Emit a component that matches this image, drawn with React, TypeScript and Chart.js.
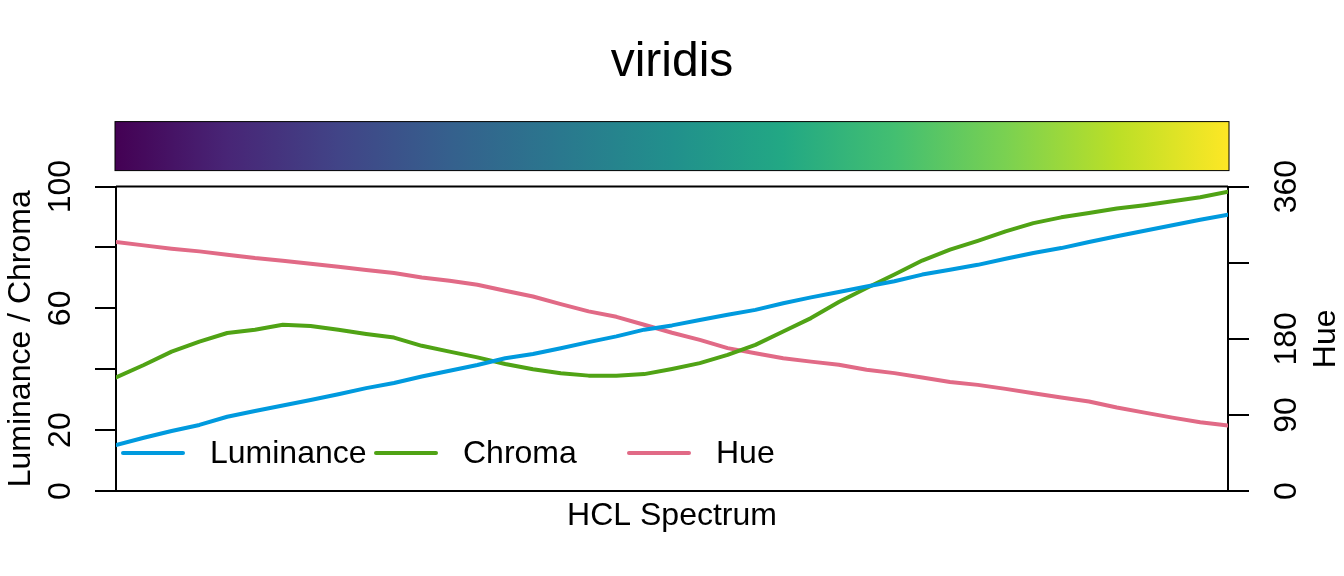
import { useEffect, useRef } from "react";
import { Chart, registerables } from "chart.js";

Chart.register(...registerables);

// HCL coordinates of the viridis palette (41 samples)
const luminance = [
  15.1, 17.5, 19.7, 21.7, 24.4, 26.3, 28.1, 29.9, 31.8, 33.8, 35.5, 37.6, 39.5, 41.4, 43.6, 45.0, 46.9, 48.9, 50.8, 53.0,
  54.4, 56.2, 57.9, 59.5, 61.7, 63.6, 65.4, 67.2, 68.9, 71.1, 72.7, 74.3, 76.3, 78.2, 79.8, 81.8, 83.7, 85.5, 87.3, 89.1,
  90.8,
];
const chroma = [
  37.3, 41.4, 45.8, 49.1, 51.9, 53.0, 54.6, 54.2, 53.0, 51.6, 50.4, 47.7, 45.8, 43.9, 41.7, 40.0, 38.7, 37.9, 37.9, 38.4,
  40.1, 42.0, 44.7, 48.0, 52.4, 56.8, 62.1, 66.7, 71.1, 75.7, 79.3, 82.2, 85.3, 88.0, 89.9, 91.3, 92.8, 93.9, 95.2, 96.5,
  98.3,
];
const hue = [
  294.5, 290.5, 286.6, 283.4, 279.5, 275.5, 272.4, 268.8, 265.3, 261.3, 257.7, 252.6, 248.7, 244.0, 236.8, 230.0, 221.0,
  212.4, 206.0, 196.6, 187.2, 178.8, 169.0, 163.0, 157.0, 153.0, 149.2, 143.3, 139.4, 134.2, 129.0, 125.5, 120.8, 115.7,
  110.5, 105.8, 98.7, 92.7, 86.8, 81.3, 77.3,
];

const seriesLabels = ["Luminance", "Chroma", "Hue"];
const seriesColors = ["#009ADE", "#50A315", "#E16A86"];
const leftTickLabels = [0, 20, 60, 100];
const rightTickLabels = [0, 90, 180, 360];
const viridisStops = [
  "#440154", "#482576", "#414487", "#35608D", "#2A788E", "#21908C", "#22A884", "#43BF71", "#7AD151", "#BBDF27", "#FDE725",
];

const FONT = "'Liberation Sans', Arial, Helvetica, sans-serif";

const decorPlugin = {
  id: "specDecor",
  afterDraw(chart: any) {
    const { ctx, chartArea } = chart;
    const xs = chart.scales.x;
    const left = xs.getPixelForValue(xs.min);
    const right = xs.getPixelForValue(xs.max);
    ctx.save();

    // colour bar above the panel
    const barTop = chartArea.top - 65;
    const grad = ctx.createLinearGradient(left, 0, right, 0);
    viridisStops.forEach((c, i) => grad.addColorStop(i / (viridisStops.length - 1), c));
    ctx.fillStyle = grad;
    ctx.fillRect(left - 1, barTop, right - left + 2, 49);
    ctx.strokeStyle = "#000";
    ctx.lineWidth = 1;
    ctx.strokeRect(left - 1, barTop, right - left + 2, 49);

    // top edge of the box
    ctx.lineWidth = 2;
    ctx.beginPath();
    ctx.moveTo(chartArea.left, chartArea.top);
    ctx.lineTo(chartArea.right, chartArea.top);
    ctx.stroke();

    // right axis title, reading bottom to top
    ctx.fillStyle = "#000";
    ctx.font = `32px ${FONT}`;
    ctx.textAlign = "center";
    ctx.textBaseline = "middle";
    ctx.translate(1326, (chartArea.top + chartArea.bottom) / 2);
    ctx.rotate(-Math.PI / 2);
    ctx.fillText("Hue", 0, 0);
    ctx.setTransform(1, 0, 0, 1, 0, 0);
    ctx.restore();

    // legend inside the panel
    ctx.save();
    const ly = chartArea.bottom - 38;
    chart.data.datasets.forEach((ds: any, i: number) => {
      const x0 = chartArea.left + 7 + i * 253;
      ctx.strokeStyle = ds.borderColor;
      ctx.lineWidth = 4;
      ctx.lineCap = "round";
      ctx.beginPath();
      ctx.moveTo(x0, ly);
      ctx.lineTo(x0 + 60, ly);
      ctx.stroke();
      ctx.fillStyle = "#000";
      ctx.font = `32px ${FONT}`;
      ctx.textAlign = "left";
      ctx.textBaseline = "middle";
      ctx.fillText(ds.label, x0 + 87, ly + 1);
    });
    ctx.restore();
  },
};

export default function App() {
  const canvasRef = useRef<HTMLCanvasElement>(null);
  const chartRef = useRef<Chart | null>(null);

  useEffect(() => {
    if (!canvasRef.current) return;
    chartRef.current?.destroy();
    Chart.defaults.font.family = FONT;
    Chart.defaults.color = "#000";

    const series = [luminance, chroma, hue];
    chartRef.current = new Chart(canvasRef.current, {
      type: "line",
      data: {
        datasets: series.map((vals, k) => ({
          label: seriesLabels[k],
          data: vals.map((v, i) => ({ x: i, y: v })),
          borderColor: seriesColors[k],
          borderWidth: 4,
          borderCapStyle: "round",
          borderJoinStyle: "round",
          pointRadius: 0,
          tension: 0,
          yAxisID: k === 2 ? "y2" : "y",
        })),
      },
      options: {
        animation: false,
        responsive: true,
        maintainAspectRatio: false,
        layout: { padding: 0 },
        plugins: {
          legend: { display: false },
          tooltip: { enabled: false },
          title: {
            display: true,
            text: "viridis",
            color: "#000",
            font: { size: 48, weight: "normal" },
            padding: { top: 34, bottom: 95 },
          },
        },
        scales: {
          x: {
            type: "linear",
            min: 0,
            max: luminance.length - 1,
            grid: { display: false },
            border: { display: true, color: "#000", width: 2 },
            ticks: { display: false },
            title: {
              display: true,
              text: "HCL Spectrum",
              color: "#000",
              font: { size: 32 },
              padding: { top: 0, bottom: 41 },
            },
            afterFit: (s: any) => {
              s.height = 85;
            },
          },
          y: {
            position: "left",
            min: 0,
            max: 100,
            ticks: {
              stepSize: 20,
              color: "#000",
              font: { size: 32 },
              minRotation: 90,
              maxRotation: 90,
              crossAlign: "center",
              padding: 7,
              callback: (v: any) => (leftTickLabels.includes(Number(v)) ? String(v) : ""),
            },
            grid: { drawOnChartArea: false, drawTicks: true, tickLength: 21, color: "#000", lineWidth: 2 },
            border: { display: true, color: "#000", width: 2 },
            title: {
              display: true,
              text: "Luminance / Chroma",
              color: "#000",
              font: { size: 32 },
              padding: { top: 2, bottom: 0 },
            },
            afterFit: (s: any) => {
              s.width = 116;
            },
          },
          y2: {
            position: "right",
            min: 0,
            max: 360,
            ticks: {
              stepSize: 90,
              color: "#000",
              font: { size: 32 },
              minRotation: 90,
              maxRotation: 90,
              crossAlign: "center",
              padding: 11,
              callback: (v: any) => (rightTickLabels.includes(Number(v)) ? String(v) : ""),
            },
            grid: { drawOnChartArea: false, drawTicks: true, tickLength: 21, color: "#000", lineWidth: 2 },
            border: { display: true, color: "#000", width: 2 },
            afterFit: (s: any) => {
              s.width = 116;
            },
          },
        },
      },
      plugins: [decorPlugin],
    });

    return () => {
      chartRef.current?.destroy();
    };
  }, []);

  return (
    <div style={{ position: "absolute", left: 0, top: 0, width: 1344, height: 576, background: "#fff" }}>
      <canvas ref={canvasRef} />
    </div>
  );
}
